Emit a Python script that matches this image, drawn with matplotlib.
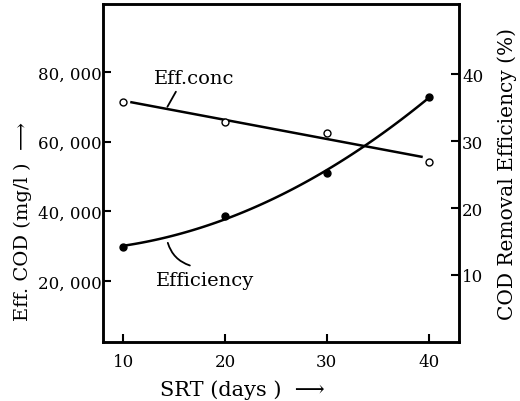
"""Eff. COD and COD removal efficiency versus SRT."""

import matplotlib
matplotlib.use("Agg")
import matplotlib.pyplot as plt  # noqa: E402
import numpy as np  # noqa: E402

SRT = [10, 20, 30, 40]
EFF_CONC = [71500, 65700, 62500, 54300]     # mg/l, left axis
EFFICIENCY = [14.2, 18.8, 25.2, 36.6]       # %, right axis

LEFT_TICKS = [20000, 40000, 60000, 80000]
LEFT_LABELS = ["20, 000", "40, 000", "60, 000", "80, 000"]
RIGHT_TICKS = [10, 20, 30, 40]
X_TICKS = [10, 20, 30, 40]

plt.rcParams["font.family"] = ["DejaVu Serif"]
plt.rcParams["font.size"] = 12

fig = plt.figure(figsize=(5.2, 4.02), dpi=100)
ax = fig.add_axes([0.198, 0.147, 0.685, 0.841])
ax2 = ax.twinx()

# Eff.conc: straight-line fit with open circles
coef = np.polyfit(SRT, EFF_CONC, 1)
xs = np.linspace(10.8, 39.3, 50)
ax.plot(xs, np.polyval(coef, xs), color="black", lw=1.8)
ax.plot(SRT, EFF_CONC, "o", ms=5, mfc="white", mec="black", mew=1.0)

# Efficiency: smooth curve with filled circles
coef2 = np.polyfit(SRT, EFFICIENCY, 2)
xs2 = np.linspace(10, 40, 80)
ax2.plot(xs2, np.polyval(coef2, xs2), color="black", lw=1.8)
ax2.plot(SRT, EFFICIENCY, "o", ms=5, color="black")

ax.set_xlim(8, 43)
ax.set_ylim(2600, 99500)
ax2.set_ylim(0, 50.5)

ax.set_xticks(X_TICKS)
ax.set_yticks(LEFT_TICKS)
ax.set_yticklabels(LEFT_LABELS)
ax2.set_yticks(RIGHT_TICKS)

ax.tick_params(axis="both", direction="in", length=6, width=1.5, labelsize=12)
ax.tick_params(axis="y", pad=1)
ax2.tick_params(axis="y", direction="in", length=6, width=1.5, labelsize=12, pad=2)
ax.tick_params(axis="x", pad=8)
for a in (ax, ax2):
    for s in a.spines.values():
        s.set_linewidth(1.8)

ax.set_xlabel("SRT (days )  \u27f6", fontsize=15)
ax.xaxis.set_label_coords(0.39, -0.11)
ax.set_ylabel("Eff. COD (mg/l )  \u27f6", fontsize=14)
ax.yaxis.set_label_coords(-0.2, 0.36)
ax2.set_ylabel("COD Removal Efficiency (%)", fontsize=14.5, labelpad=10)

# Labels with leader lines
ax.text(13.0, 78300, "Eff.conc", fontsize=14, ha="left", va="center")
ax.annotate("", xy=(14.2, 69300), xytext=(15.3, 75000),
            arrowprops=dict(arrowstyle="-", lw=1.3, color="black"))
ax2.text(13.2, 9.3, "Efficiency", fontsize=14, ha="left", va="center")
ax2.annotate("", xy=(14.3, 15.2), xytext=(16.8, 11.3),
             arrowprops=dict(arrowstyle="-", lw=1.3, color="black",
                             connectionstyle="arc3,rad=-0.3"))

fig.savefig("out.png", dpi=100, facecolor="white")
plt.close(fig)
